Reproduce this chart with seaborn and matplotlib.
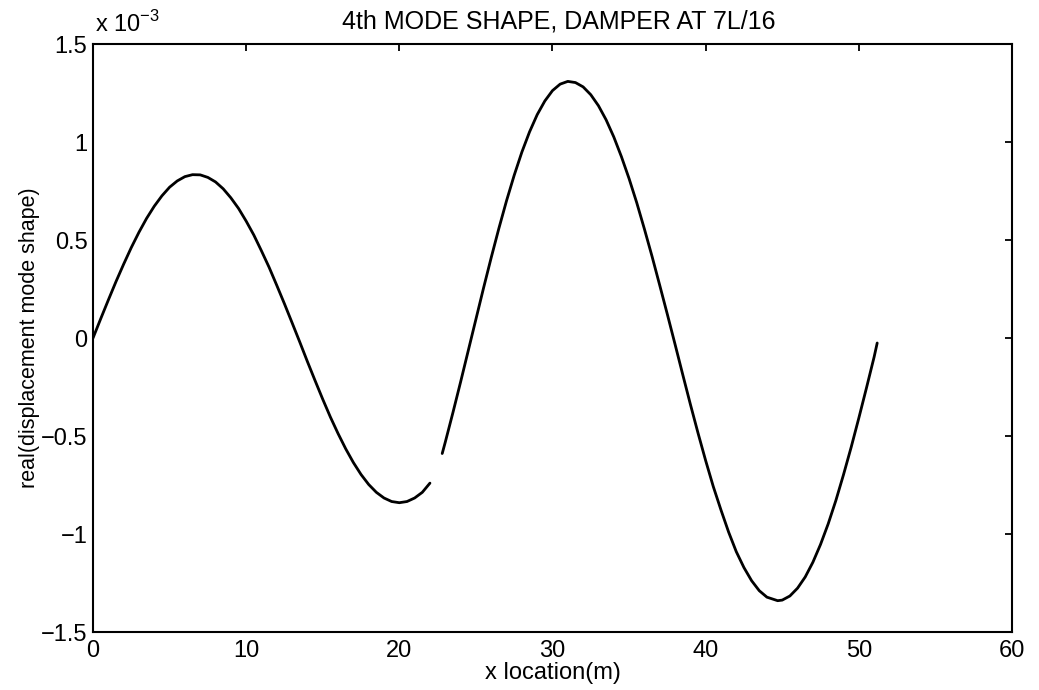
import numpy as np
import pandas as pd
import matplotlib
matplotlib.use("Agg")
import matplotlib.pyplot as plt
from matplotlib.ticker import FuncFormatter, FixedLocator
import seaborn as sns

# Real part of the 4th displacement mode shape (values in units of 1e-3)
x_left = [0, 0.5, 1, 1.5, 2, 2.5, 3, 3.5, 4, 4.5, 5, 5.5, 6, 6.5, 7, 7.5,
          8, 8.5, 9, 9.5, 10, 10.5, 11, 11.5, 12, 12.5, 13, 13.5, 14, 14.5,
          15, 15.5, 16, 16.5, 17, 17.5, 18, 18.5, 19, 19.5, 20, 20.5, 21,
          21.5, 22]
y_left = [0.000, 0.098, 0.194, 0.288, 0.377, 0.462, 0.540, 0.611, 0.673,
          0.726, 0.770, 0.802, 0.824, 0.834, 0.833, 0.820, 0.797, 0.762,
          0.716, 0.662, 0.597, 0.526, 0.445, 0.361, 0.269, 0.175, 0.078,
          -0.020, -0.120, -0.217, -0.312, -0.403, -0.487, -0.565, -0.635,
          -0.696, -0.747, -0.787, -0.816, -0.834, -0.840, -0.834, -0.816,
          -0.787, -0.740]

x_right = [22.8, 23, 23.5, 24, 24.5, 25, 25.5, 26, 26.5, 27, 27.5, 28, 28.5,
           29, 29.5, 30, 30.5, 31, 31.5, 32, 32.5, 33, 33.5, 34, 34.5, 35,
           35.5, 36, 36.5, 37, 37.5, 38, 38.5, 39, 39.5, 40, 40.5, 41, 41.5,
           42, 42.5, 43, 43.5, 44, 44.7, 45, 45.5, 46, 46.5, 47, 47.5, 48,
           48.5, 49, 49.5, 50, 50.5, 51, 51.2]
y_right = [-0.589, -0.531, -0.380, -0.224, -0.064, 0.096, 0.256, 0.411,
           0.560, 0.701, 0.831, 0.949, 1.052, 1.140, 1.210, 1.263, 1.296,
           1.310, 1.304, 1.282, 1.242, 1.186, 1.114, 1.027, 0.926, 0.814,
           0.691, 0.557, 0.417, 0.270, 0.121, -0.031, -0.185, -0.337, -0.484,
           -0.625, -0.758, -0.877, -0.990, -1.090, -1.171, -1.238, -1.289,
           -1.322, -1.340, -1.337, -1.316, -1.276, -1.219, -1.144, -1.053,
           -0.948, -0.829, -0.697, -0.557, -0.408, -0.254, -0.096, -0.025]

x_ticks = [0, 10, 20, 30, 40, 50, 60]
y_ticks = [-1.5, -1, -0.5, 0, 0.5, 1, 1.5]

sns.set_theme(style="white")
plt.rcParams["font.family"] = ["Liberation Sans", "DejaVu Sans"]
plt.rcParams["axes.unicode_minus"] = True
plt.rcParams["text.color"] = "black"
plt.rcParams["axes.labelcolor"] = "black"

fig = plt.figure(figsize=(10.39, 6.90), dpi=100)
ax = fig.add_axes([0.0895, 0.084, 0.8845, 0.852])

left = pd.DataFrame({"x": x_left, "y": y_left})
right = pd.DataFrame({"x": x_right, "y": y_right})
for seg in (left, right):
    sns.lineplot(data=seg, x="x", y="y", ax=ax, color="black", linewidth=2.0,
                 sort=False, estimator=None)

ax.set_xlim(0, 60)
ax.set_ylim(-1.5, 1.5)
ax.xaxis.set_major_locator(FixedLocator(x_ticks))
ax.yaxis.set_major_locator(FixedLocator(y_ticks))
fmt = FuncFormatter(lambda v, p: ("%g" % v).replace("-", "\u2212"))
ax.xaxis.set_major_formatter(fmt)
ax.yaxis.set_major_formatter(fmt)

ax.tick_params(axis="both", direction="in", length=5, width=1.3,
               top=True, right=True, labelsize=17, colors="black")
ax.tick_params(axis="x", pad=6)
ax.tick_params(axis="y", pad=4)
for s in ax.spines.values():
    s.set_color("black")
    s.set_linewidth(1.5)
    s.set_visible(True)

ax.set_xlabel("x location(m)", fontsize=17, labelpad=0, color="black")
ax.set_ylabel("real(displacement mode shape)", fontsize=15.5, labelpad=1,
              color="black")
ax.set_title("4th MODE SHAPE, DAMPER AT 7L/16", fontsize=18, pad=11,
             x=0.507, color="black")
ax.text(0.002, 1.013, "x 10$^{\\mathregular{-3}}$", transform=ax.transAxes,
        fontsize=17, ha="left", va="bottom", color="black")

fig.savefig("out.png", dpi=100, facecolor="white")
